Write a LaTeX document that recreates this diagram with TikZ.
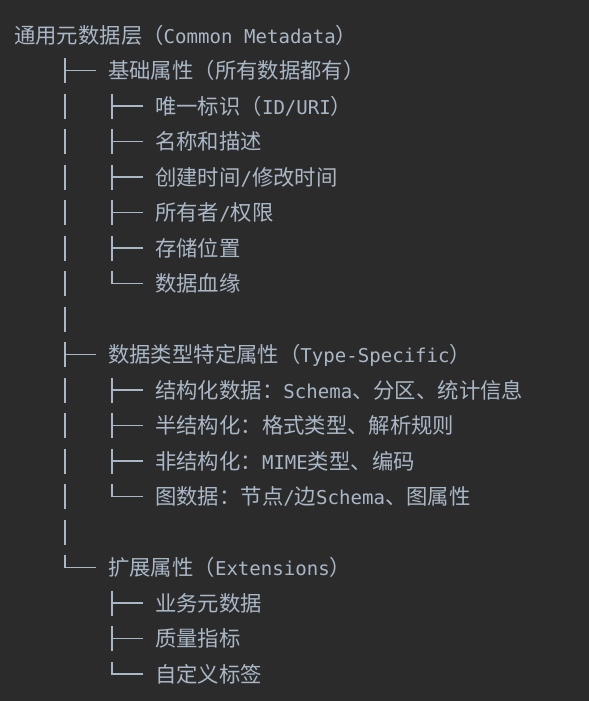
\documentclass[tikz,border=0pt]{standalone}
\usepackage{fontspec}
\setmainfont{DejaVu Sans Mono}
\newfontfamily\cjk{Noto Sans CJK SC}[Scale=1.12]
\newcommand{\zh}[1]{{\cjk #1}}
\definecolor{bg}{HTML}{2B2B2B}
\definecolor{fg}{HTML}{A9B7C6}
% one tree glyph per row
\newcommand{\tee}[1]{\draw[tree] (#1.west) ++(-12,0) -- ++(-31,0) ++(0,-12.5) -- ++(0,25);}
\newcommand{\corner}[1]{\draw[tree] (#1.west) ++(-12,0) -- ++(-31,0) -- ++(0,-12.5);}
\newcommand{\pipe}[1]{\draw[tree] (#1 -| col) ++(0,-12.5) -- ++(0,25);}

\begin{document}
\begin{tikzpicture}[x=0.75pt,y=0.75pt,yscale=-1,xscale=1,
	txt/.style={anchor=west, inner sep=0pt, text height=12pt, text depth=0pt, text=fg, font=\fontsize{14.3pt}{17pt}\selectfont},
	tree/.style={draw=fg, line width=1.3pt}]
	\fill[bg] (0,0) rectangle (589,701);
	\coordinate (col) at (65,0);
	% root
	\node[txt] (root) at (14,35) {\zh{通用元数据层（}Common Metadata\zh{）}};
	% basic
	\node[txt] (base) at (108,70.5) {\zh{基础属性（所有数据都有）}};
	\node[txt] (uid) at (155,106) {\zh{唯一标识（}ID/URI\zh{）}};
	\node[txt] (name) at (155,141.5) {\zh{名称和描述}};
	\node[txt] (time) at (155,177) {\zh{创建时间}/\zh{修改时间}};
	\node[txt] (owner) at (155,212.5) {\zh{所有者}/\zh{权限}};
	\node[txt] (store) at (155,248) {\zh{存储位置}};
	\node[txt] (lineage) at (155,283.5) {\zh{数据血缘}};
	\coordinate (gapa) at (108,319);
	% type specific
	\node[txt] (typed) at (108,354.5) {\zh{数据类型特定属性（}Type-Specific\zh{）}};
	\node[txt] (struct) at (155,390) {\zh{结构化数据：}Schema\zh{、分区、统计信息}};
	\node[txt] (semi) at (155,425.5) {\zh{半结构化：格式类型、解析规则}};
	\node[txt] (unstruct) at (155,461) {\zh{非结构化：}MIME\zh{类型、编码}};
	\node[txt] (graph) at (155,496.5) {\zh{图数据：节点}/\zh{边}Schema\zh{、图属性}};
	\coordinate (gapb) at (108,532);
	% extensions
	\node[txt] (ext) at (108,567.5) {\zh{扩展属性（}Extensions\zh{）}};
	\node[txt] (biz) at (155,603) {\zh{业务元数据}};
	\node[txt] (quality) at (155,638.5) {\zh{质量指标}};
	\node[txt] (tags) at (155,674) {\zh{自定义标签}};

	\tee{base} \tee{typed} \corner{ext}
	\foreach \n in {uid,name,time,owner,store,lineage,gapa,struct,semi,unstruct,graph,gapb} {\pipe{\n}}
	\tee{uid} \tee{name} \tee{time} \tee{owner} \tee{store} \corner{lineage}
	\tee{struct} \tee{semi} \tee{unstruct} \corner{graph}
	\tee{biz} \tee{quality} \corner{tags}
\end{tikzpicture}
\end{document}
